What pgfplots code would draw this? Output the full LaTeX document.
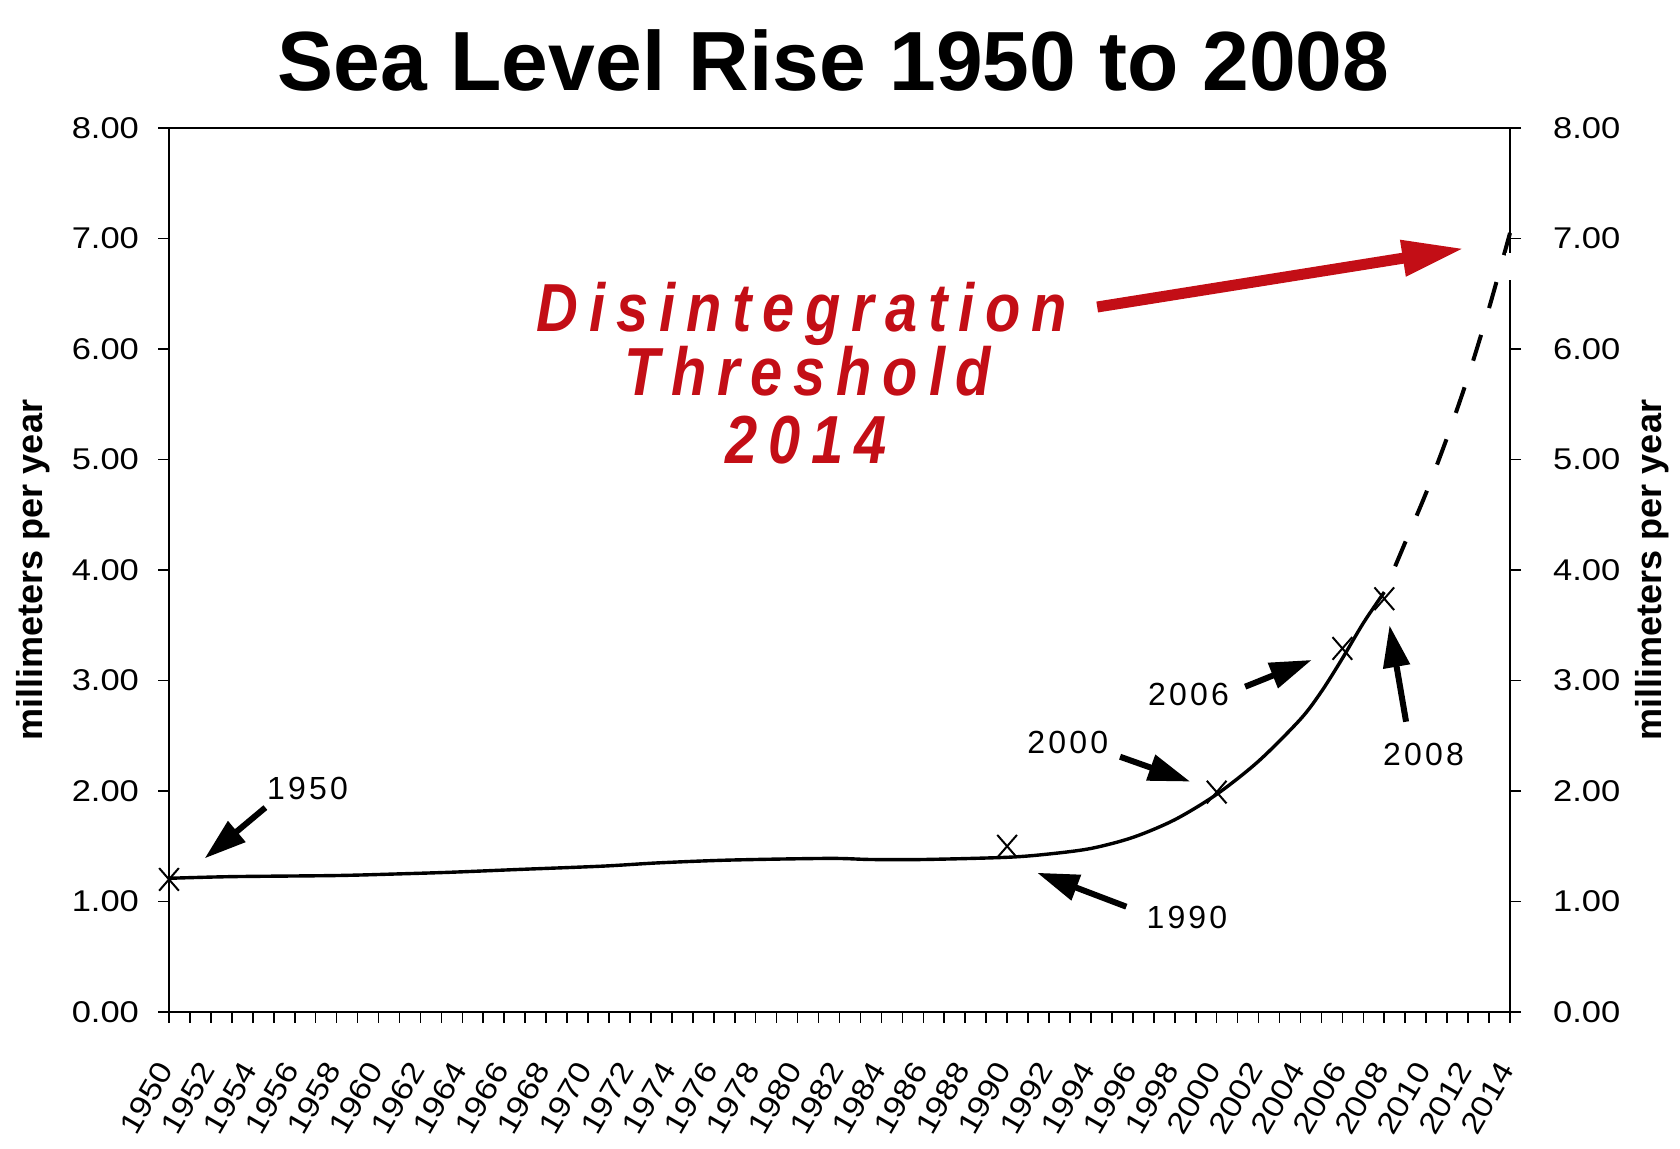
\documentclass[border=0pt]{standalone}
\usepackage{pgfplots}
\pgfplotsset{compat=1.18}
\usepackage{pgfplotstable}
\usetikzlibrary{arrows.meta}
\usepackage{fontspec}
\setmainfont{Liberation Sans}
\newfontfamily\tickfont[FakeStretch=1.15]{Liberation Sans}
\newfontfamily\annofont[LetterSpace=10]{Liberation Sans}
\newfontfamily\redfont[LetterSpace=16,FakeStretch=0.85]{Liberation Sans}
\definecolor{alarmred}{RGB}{195,14,22}

% observed rate of sea level rise (mm per year)
\pgfplotstableread{
year rate
1950 1.21
1953 1.225
1958 1.235
1961 1.25
1963.5 1.265
1966.7 1.29
1970.7 1.32
1973.4 1.35
1976.8 1.375
1981.5 1.39
1983.5 1.38
1986 1.38
1990 1.40
1992 1.43
1994 1.48
1996 1.58
1998 1.74
2000 1.97
2002 2.27
2004 2.65
2005 2.90
2006 3.20
2007 3.52
2008 3.80
}\observed

% projected continuation to 2014
\pgfplotstableread{
year rate
2008 3.80
2009 4.25
2010 4.70
2011 5.20
2012 5.75
2013 6.37
2014 7.05
}\projected

% marked years
\pgfplotstableread{
year rate
1950 1.20
1990 1.50
2000 1.99
2006 3.29
2008 3.74
}\marked

\pgfplotsset{
  ratetick/.style={
    /pgf/number format/assume math mode=true,
    tick label style={font=\fontsize{15}{15}\selectfont\tickfont},
    yticklabel={\pgfmathprintnumber[fixed,fixed zerofill,precision=2]{\tick}},
    tick align=outside,
    major tick length=5.5pt,
    minor tick length=5.5pt,
    every tick/.style={black, line width=0.8pt},
    axis line style={black, line width=0.8pt, -},
  }
}

\begin{document}
\begin{tikzpicture}
\useasboundingbox (-84.5pt,-68.5pt) rectangle (755.5pt,506pt);
\begin{axis}[
  ratetick,
  at={(0,0)}, anchor=south west,
  scale only axis, width=670.5pt, height=442pt,
  xmin=1950, xmax=2014, ymin=0, ymax=8,
  xtick={1950,1952,...,2014},
  minor xtick={1951,1953,...,2013},
  ytick={0,1,...,8},
  xtick pos=left, ytick pos=left,
  xticklabel shift=18pt,
  xticklabel style={rotate=60, anchor=east, /pgf/number format/1000 sep={}},
  yticklabel style={xshift=-6pt},
  clip=false,
]
\addplot[black, line width=1.7pt, smooth] table[x=year, y=rate] {\observed};
\addplot[black, line width=2pt, smooth, dash pattern=on 13.5pt off 14pt, dash phase=13.5pt] table[x=year, y=rate] {\projected};
\addplot[only marks, mark=x, mark size=8pt, mark options={black, line width=1pt, xscale=0.87}] table[x=year, y=rate] {\marked};

% title and axis titles
\node[anchor=base, font=\fontsize{42}{42}\selectfont\bfseries] at (axis cs:1981.72,8.335) {Sea Level Rise 1950 to 2008};
\node[rotate=90, font=\fontsize{18}{18}\selectfont\bfseries] at (rel axis cs:-0.1014,0.5) {millimeters per year};
\node[rotate=90, font=\fontsize{18}{18}\selectfont\bfseries] at (rel axis cs:1.1059,0.5) {millimeters per year};

% year callouts
\tikzset{callout/.style={black, line width=3pt, -{Triangle[length=21pt,width=13pt]}}}
\node[font=\fontsize{16}{16}\selectfont\annofont] at (axis cs:1956.61,2.024) {1950};
\draw[callout] (axis cs:1954.6,1.85) -- (axis cs:1951.7,1.39);
\node[font=\fontsize{16}{16}\selectfont\annofont] at (axis cs:1998.58,0.855) {1990};
\draw[callout] (axis cs:1995.69,0.953) -- (axis cs:1991.43,1.26);
\node[font=\fontsize{16}{16}\selectfont\annofont] at (axis cs:1992.89,2.44) {2000};
\draw[callout] (axis cs:1995.39,2.31) -- (axis cs:1998.74,2.085);
\node[font=\fontsize{16}{16}\selectfont\annofont] at (axis cs:1998.66,2.869) {2006};
\draw[callout] (axis cs:2001.36,2.944) -- (axis cs:2004.54,3.186);
\node[font=\fontsize{16}{16}\selectfont\annofont] at (axis cs:2009.87,2.326) {2008};
\draw[callout] (axis cs:2009.04,2.627) -- (axis cs:2008.25,3.50);

% threshold note
\tikzset{threshold/.style={anchor=base, text=alarmred, font=\fontsize{34}{34}\selectfont\redfont\bfseries\itshape}}
\node[threshold] at (axis cs:1980.2,6.154) {Disintegration};
\node[threshold] at (axis cs:1980.5,5.575) {Threshold};
\node[threshold] at (axis cs:1980.4,4.968) {2014};
\draw[alarmred, line width=5.5pt, -{Triangle[length=31pt,width=17pt]}] (axis cs:1994.3,6.38) -- (axis cs:2011.81,6.91);
\end{axis}

\begin{axis}[
  ratetick,
  at={(0,0)}, anchor=south west,
  scale only axis, width=670.5pt, height=442pt,
  xmin=1950, xmax=2014, ymin=0, ymax=8,
  axis x line=none, axis y line*=right,
  ytick={0,1,...,8},
  yticklabel style={xshift=12.5pt},
  clip=false,
  after end axis/.code={
    \fill[white] (axis cs:2013.8,6.62) rectangle (axis cs:2014.25,6.87);
  },
]
\end{axis}
\end{tikzpicture}
\end{document}
